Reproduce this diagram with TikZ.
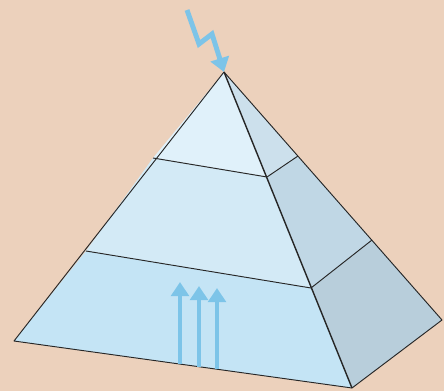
\documentclass[tikz,border=0pt]{standalone}
\usetikzlibrary{arrows.meta}
\definecolor{bg}{RGB}{236,209,188}
\definecolor{ftop}{RGB}{224,241,250}
\definecolor{fmid}{RGB}{211,234,246}
\definecolor{fbot}{RGB}{196,228,245}
\definecolor{stop}{RGB}{204,224,236}
\definecolor{smid}{RGB}{192,215,229}
\definecolor{sbot}{RGB}{184,206,219}
\definecolor{arr}{RGB}{125,196,232}
\tikzset{
  edge/.style={draw=black!85, line width=0.8pt, line join=round},
  bolt/.style={draw=arr, line width=4.2pt, line join=miter, -{Triangle[length=12pt,width=16pt]}},
  uparrow/.style={draw=arr, line width=3.4pt, -{Triangle[length=12pt,width=15pt]}}
}
\begin{document}
\begin{tikzpicture}[x=0.03cm,y=-0.03cm]
\fill[bg] (0,0) rectangle (444,391);
\useasboundingbox (0,0) rectangle (444,391);
% corners
\coordinate (A) at (224,72);
\coordinate (L) at (14,341);
\coordinate (F) at (352,388);
\coordinate (R) at (442,320);
% tier points
\coordinate (L1) at (153,158);
\coordinate (F1) at (267,177);
\coordinate (R1) at (298,156);
\coordinate (L2) at (86,251);
\coordinate (F2) at (311,288);
\coordinate (R2) at (372,240);
% front faces
\fill[ftop] (A) -- (L1) -- (F1) -- cycle;
\fill[fmid] (L1) -- (L2) -- (F2) -- (F1) -- cycle;
\fill[fbot] (L2) -- (L) -- (F) -- (F2) -- cycle;
% side faces
\fill[stop] (A) -- (F1) -- (R1) -- cycle;
\fill[smid] (F1) -- (F2) -- (R2) -- (R1) -- cycle;
\fill[sbot] (F2) -- (F) -- (R) -- (R2) -- cycle;
% edges
\draw[edge] (A) -- (L) -- (F) -- (R) -- cycle;
\draw[edge, line width=1.2pt] (A) -- (F);
\draw[edge] (L1) -- (F1) -- (R1);
\draw[edge] (L2) -- (F2) -- (R2);
% lightning
\coordinate (b0) at (187,10);
\coordinate (b1) at (199,44);
\coordinate (b2) at (212,34);
\draw[bolt] (b0) -- (b1) -- (b2) -- (A);
% arrows
\coordinate (p1) at (180,364);
\coordinate (q1) at (180,282);
\coordinate (p2) at (199,367);
\coordinate (q2) at (199,286);
\coordinate (p3) at (217,369);
\coordinate (q3) at (217,288);
\draw[uparrow] (p1) -- (q1);
\draw[uparrow] (p2) -- (q2);
\draw[uparrow] (p3) -- (q3);
\end{tikzpicture}
\end{document}
